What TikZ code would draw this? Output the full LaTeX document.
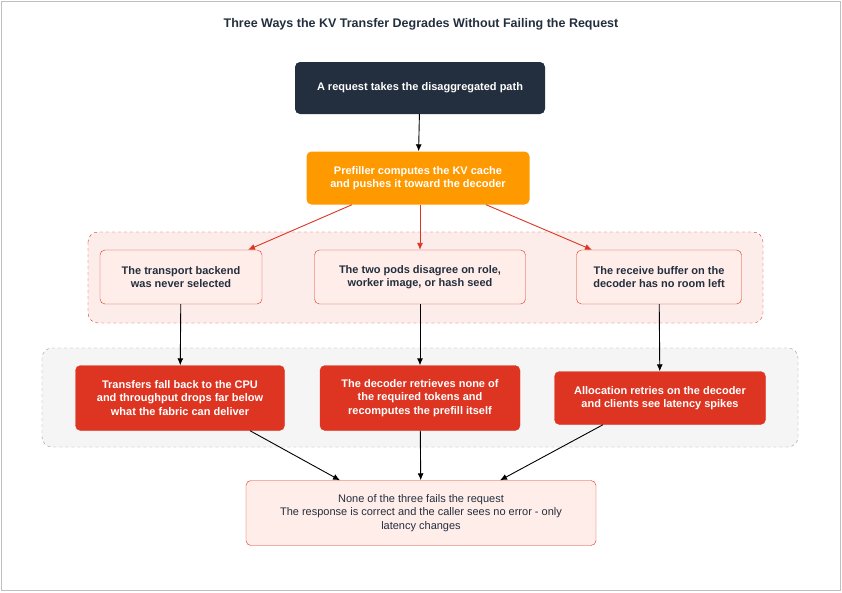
\documentclass[tikz,border=0pt]{standalone}
\usepackage{fontspec}
\setmainfont{Liberation Sans}
\usetikzlibrary{positioning,arrows.meta}
\definecolor{navy}{HTML}{232F3E}
\definecolor{amber}{HTML}{FF9900}
\definecolor{alarm}{HTML}{DD3522}
\definecolor{blush}{HTML}{FFEDEA}
\definecolor{ink}{HTML}{232F3E}
\tikzset{
  box/.style={rounded corners=5pt,align=center,font=\fontsize{11}{13.5}\selectfont\bfseries,inner sep=2pt},
  cause/.style={box,draw=alarm,fill=blush,text=ink},
  effect/.style={box,draw=alarm,fill=alarm,text=white},
  link/.style={-{Latex[length=7pt,width=6pt]},line width=0.9pt},
}
\begin{document}
\begin{tikzpicture}[x=1pt,y=-1pt]
  \useasboundingbox (0,0) rectangle (842,592);
  \draw[gray!50,fill=white] (1,1) rectangle (840,590);
  \node[font=\fontsize{12.5}{14}\selectfont\bfseries,text=ink] (title) at (421,24) {Three Ways the KV Transfer Degrades Without Failing the Request};
  % groups
  \draw[alarm,dashed,fill=alarm!9,rounded corners=10pt] (88,232) rectangle (763,323);
  \draw[gray!80,dashed,fill=gray!8,rounded corners=10pt] (42,348) rectangle (798,447);
  % nodes
  \node[box,fill=navy,text=white,minimum width=250pt,minimum height=52pt] (req) at (420,88) {A request takes the disaggregated path};
  \node[box,fill=amber,text=white,minimum width=223pt,minimum height=53pt] (pre) at (418,178) {Prefiller computes the KV cache\\and pushes it toward the decoder};
  \node[cause,minimum width=162pt,minimum height=54pt] (backend) at (181,277) {The transport backend\\was never selected};
  \node[cause,minimum width=211pt,minimum height=54pt] (pods) at (420,277) {The two pods disagree on role,\\worker image, or hash seed};
  \node[cause,minimum width=165pt,minimum height=54pt] (buffer) at (659,277) {The receive buffer on the\\decoder has no room left};
  \node[effect,minimum width=209pt,minimum height=65pt] (cpu) at (180,398) {Transfers fall back to the CPU\\and throughput drops far below\\what the fabric can deliver};
  \node[effect,minimum width=200pt,minimum height=65pt] (recomp) at (420,398) {The decoder retrieves none of\\the required tokens and\\recomputes the prefill itself};
  \node[effect,minimum width=211pt,minimum height=53pt] (retry) at (660,398) {Allocation retries on the decoder\\and clients see latency spikes};
  \node[cause,font=\fontsize{11}{13.5}\selectfont,minimum width=350pt,minimum height=65pt] (out) at (421,513) {None of the three fails the request\\The response is correct and the caller sees no error - only\\latency changes};
  % connectors
  \draw[link] (req) -- (pre);
  \draw[link,alarm] ([xshift=-66pt]pre.south) -- ([xshift=67pt]backend.north);
  \draw[link,alarm] ([xshift=2pt]pre.south) -- (pods.north);
  \draw[link,alarm] ([xshift=68pt]pre.south) -- ([xshift=-67pt]buffer.north);
  \draw[link] (backend) -- (cpu);
  \draw[link] (pods) -- (recomp);
  \draw[link] (buffer) -- (retry);
  \draw[link] ([xshift=70pt]cpu.south) -- ([xshift=-81pt]out.north);
  \draw[link] (recomp) -- (out);
  \draw[link] ([xshift=-57pt]retry.south) -- ([xshift=79pt]out.north);
\end{tikzpicture}
\end{document}
